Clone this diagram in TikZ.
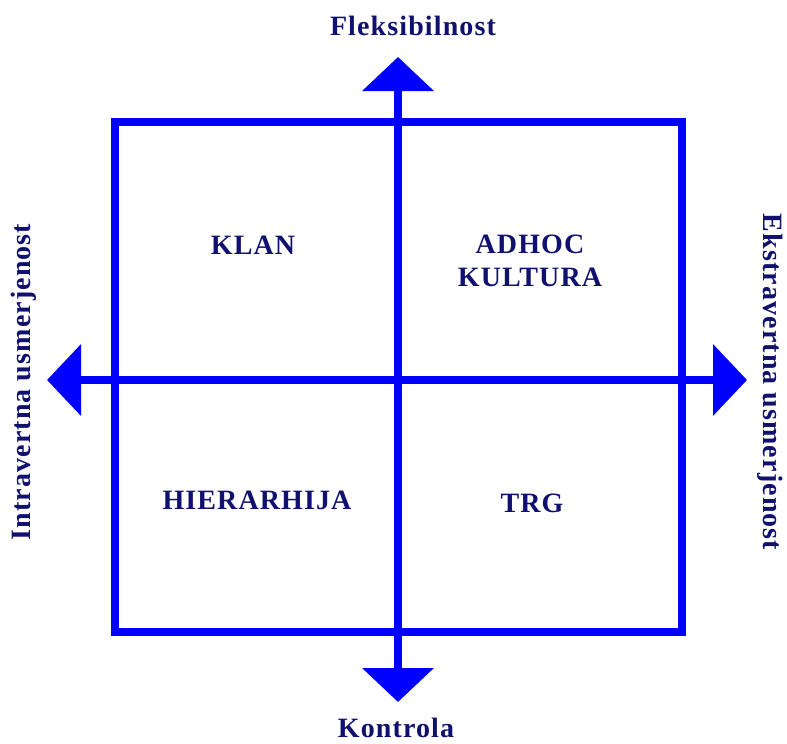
\documentclass[tikz,border=0pt]{standalone}
\usepackage{fontspec}
\setmainfont{Liberation Serif}
\newfontfamily\lblfont[LetterSpace=4]{Liberation Serif}
\usetikzlibrary{arrows.meta}
\definecolor{navy}{RGB}{16,16,110}
\begin{document}
\begin{tikzpicture}[x=1pt,y=-1pt,
    axis/.style={draw=blue,line width=8pt,
        -{Triangle[length=34pt,width=70pt]}},
    lbl/.style={text=navy,font=\lblfont\bfseries\fontsize{28}{33}\selectfont,
        align=center,inner sep=0pt}]
    \useasboundingbox (0,0) rectangle (787,744);
    % box
    \draw[blue,line width=8pt] (115,122) rectangle (682,632);
    % axis ends
    \coordinate (mid) at (398,380);
    \coordinate (up) at (398,57);
    \coordinate (down) at (398,702);
    \coordinate (left) at (47,380);
    \coordinate (right) at (747,380);
    \draw[axis] (mid) -- (up);
    \draw[axis] (mid) -- (down);
    \draw[axis] (mid) -- (left);
    \draw[axis] (mid) -- (right);
    % labels
    \node[lbl] (flex) at (413,26) {Fleksibilnost};
    \node[lbl] (ctrl) at (396,728) {Kontrola};
    \node[lbl,rotate=90] (intra) at (24,382) {Intravertna usmerjenost};
    \node[lbl,rotate=-90] (ekstra) at (770,382) {Ekstravertna usmerjenost};
    \node[lbl] (klan) at (253,245) {KLAN};
    \node[lbl] (adhoc) at (530,261) {ADHOC\\KULTURA};
    \node[lbl] (hier) at (257,500) {HIERARHIJA};
    \node[lbl] (trg) at (532,503) {TRG};
\end{tikzpicture}
\end{document}
